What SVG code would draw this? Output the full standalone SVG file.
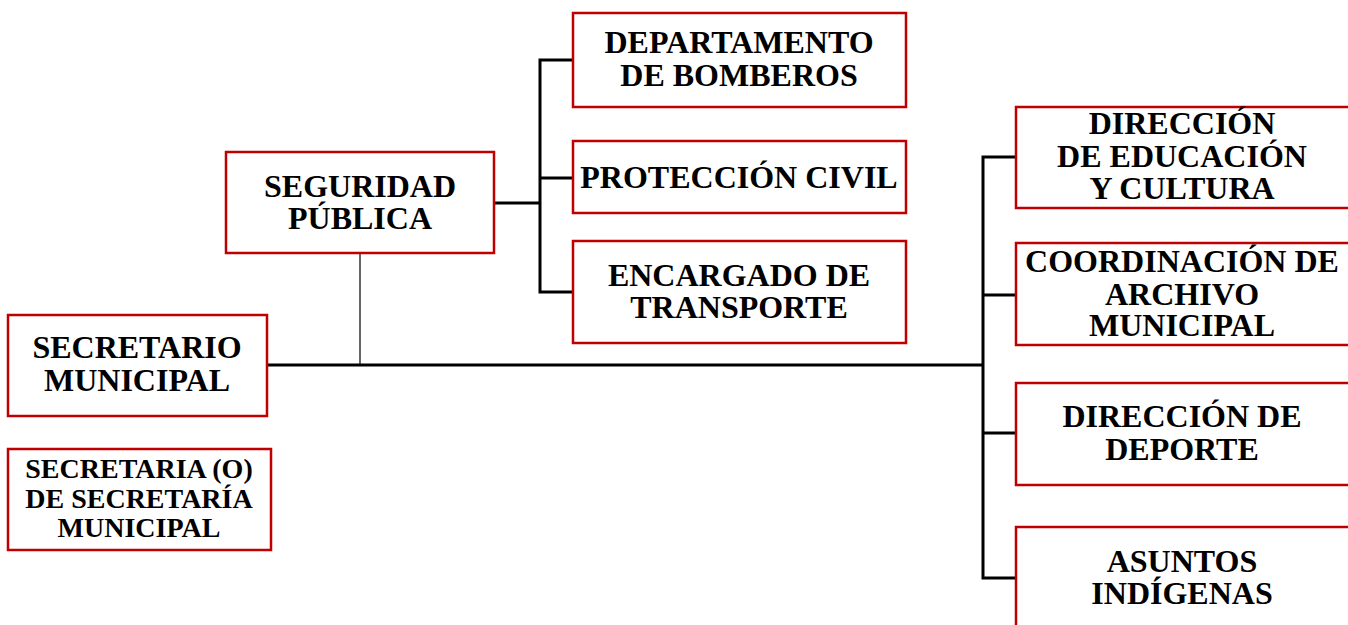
<svg xmlns="http://www.w3.org/2000/svg" width="1348" height="625" viewBox="0 0 1348 625">
<style>
.box{fill:#fff;stroke:#c00000;stroke-width:2.5}
.t{font-family:"Liberation Serif","Times New Roman",serif;font-weight:bold;font-size:32px;fill:#000;text-anchor:middle}
.s{font-size:28px}
.c{fill:none;stroke:#000;stroke-width:3}
.thin{fill:none;stroke:#333;stroke-width:1.5}
</style>
<rect width="1348" height="625" fill="#fff"/>
<g id="connectors">
<line class="thin" x1="360" y1="253" x2="360" y2="365"/>
<line class="c" x1="267" y1="365" x2="984" y2="365"/>
<path class="c" d="M494 203H540M573 60H540V292H573M540 178H573"/>
<path class="c" d="M1016 157H983V578H1016M983 295H1016M983 433H1016"/>
</g>
<g id="seguridad"><rect class="box" x="226" y="152" width="268" height="101"/><text class="t" x="360" y="197">SEGURIDAD</text><text class="t" x="360" y="229">PÚBLICA</text></g>
<g id="secretario"><rect class="box" x="8" y="315" width="259" height="101"/><text class="t" x="137" y="358">SECRETARIO</text><text class="t" x="137" y="391">MUNICIPAL</text></g>
<g id="secretaria"><rect class="box" x="8" y="449" width="263" height="101"/><text class="t s" x="139" y="478">SECRETARIA (O)</text><text class="t s" x="139" y="508">DE SECRETARÍA</text><text class="t s" x="139" y="537">MUNICIPAL</text></g>
<g id="bomberos"><rect class="box" x="573" y="13" width="333" height="94"/><text class="t" x="739" y="53">DEPARTAMENTO</text><text class="t" x="739" y="86">DE BOMBEROS</text></g>
<g id="proteccion"><rect class="box" x="573" y="141" width="333" height="72"/><text class="t" x="739" y="188">PROTECCIÓN CIVIL</text></g>
<g id="transporte"><rect class="box" x="573" y="241" width="333" height="102"/><text class="t" x="739" y="286">ENCARGADO DE</text><text class="t" x="739" y="318">TRANSPORTE</text></g>
<g id="educacion"><rect class="box" x="1016" y="107" width="340" height="101"/><text class="t" x="1182" y="134">DIRECCIÓN</text><text class="t" x="1182" y="167">DE EDUCACIÓN</text><text class="t" x="1182" y="199">Y CULTURA</text></g>
<g id="archivo"><rect class="box" x="1016" y="243" width="340" height="102"/><text class="t" x="1182" y="272">COORDINACIÓN DE</text><text class="t" x="1182" y="305">ARCHIVO</text><text class="t" x="1182" y="336">MUNICIPAL</text></g>
<g id="deporte"><rect class="box" x="1016" y="383" width="340" height="102"/><text class="t" x="1182" y="427">DIRECCIÓN DE</text><text class="t" x="1182" y="460">DEPORTE</text></g>
<g id="indigenas"><rect class="box" x="1016" y="527" width="340" height="110"/><text class="t" x="1182" y="572">ASUNTOS</text><text class="t" x="1182" y="604">INDÍGENAS</text></g>
</svg>
